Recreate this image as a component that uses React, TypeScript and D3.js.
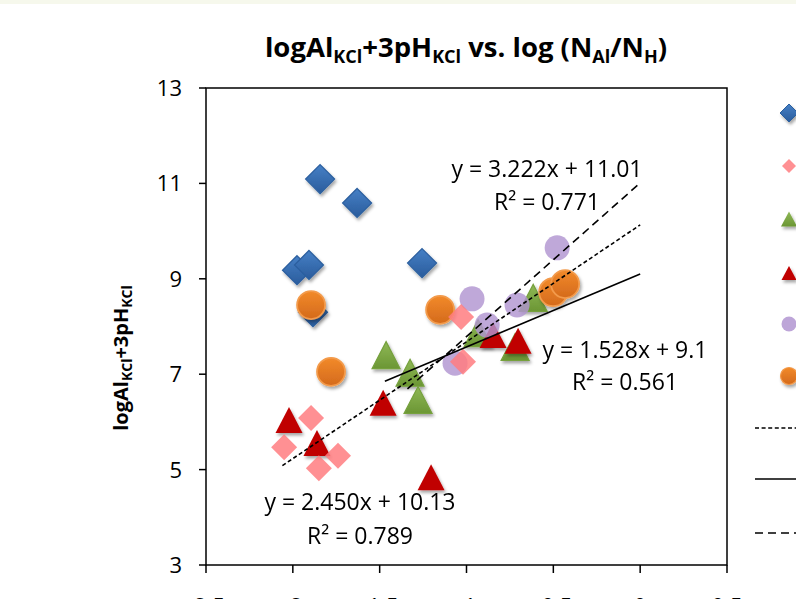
import React from 'react';
import * as d3 from 'd3';

// ---- data ----
const blueX = [-1.843, -1.63, -1.976, -1.907, -1.884, -1.256];
const blueY = [11.09, 10.59, 9.18, 9.29, 8.3, 9.33];

const pinkX = [-1.895, -2.05, -1.74, -1.85, -1.031, -1.02];
const pinkY = [6.08, 5.47, 5.29, 5.03, 8.2, 7.26];

const greenX = [-1.463, -1.325, -1.279, -0.616, -0.933, -0.72];
const greenY = [7.4, 7.03, 6.46, 8.6, 7.86, 7.57];

const redX = [-2.022, -1.861, -1.48, -1.204, -0.847, -0.703];
const redY = [6.04, 5.56, 6.4, 4.84, 7.82, 7.7];

const purpleX = [-0.478, -0.968, -0.709, -0.881, -1.066];
const purpleY = [9.65, 8.58, 8.45, 8.03, 7.23];

const orangeX = [-1.895, -1.78, -1.152, -0.501, -0.432];
const orangeY = [8.45, 7.05, 8.35, 8.72, 8.89];

const yTicks = [3, 5, 7, 9, 11, 13];
const xTicks = [-2.5, -2, -1.5, -1, -0.5, 0, 0.5];

// trendlines: slope, intercept, x-range
const trendDotted = { m: 2.45, b: 10.13, x0: -2.06, x1: 0 };
const trendSolid = { m: 1.528, b: 9.1, x0: -1.47, x1: 0 };
const trendDashed = { m: 3.222, b: 11.01, x0: -1.34, x1: 0 };

const eqDashed = ['y = 3.222x + 11.01', 'R² = 0.771'];
const eqSolid = ['y = 1.528x + 9.1', 'R² = 0.561'];
const eqDotted = ['y = 2.450x + 10.13', 'R² = 0.789'];

const FONT = "'Open Sans', 'DejaVu Sans', sans-serif";

const diamond = (r: number) => `M0,${-r}L${r},0L0,${r}L${-r},0Z`;
const triangle = (w: number, h: number) => `M0,${-h / 2}L${w / 2},${h / 2}L${-w / 2},${h / 2}Z`;

export default function App() {
  const W = 796;
  const H = 599;
  const x = d3.scaleLinear().domain([-2.5, 0.5]).range([206, 727]);
  const y = d3.scaleLinear().domain([3, 13]).range([565, 88]);

  const zip = (xs: number[], ys: number[]) => xs.map((v, i) => [v, ys[i]] as [number, number]);

  const line = (t: { m: number; b: number; x0: number; x1: number }) =>
    d3.line<number>()
      .x((d) => x(d))
      .y((d) => y(t.m * d + t.b))([t.x0, t.x1]) as string;

  const axisColor = '#000';
  const EQ = 23;

  return (
    <svg width={W} height={H} style={{ position: 'absolute', left: 0, top: 0, background: '#fff' }} fontFamily={FONT}>
      <defs>
        <filter id="sh" x="-60%" y="-60%" width="220%" height="220%">
          <feDropShadow dx="1.5" dy="2.5" stdDeviation="1.6" floodColor="#000" floodOpacity="0.35" />
        </filter>
        <linearGradient id="gBlue" x1="0" y1="0" x2="0" y2="1">
          <stop offset="0" stopColor="#4680c6" />
          <stop offset="1" stopColor="#2a5c9c" />
        </linearGradient>
        <linearGradient id="gGreen" x1="0" y1="0" x2="0" y2="1">
          <stop offset="0" stopColor="#8fb856" />
          <stop offset="1" stopColor="#6b9634" />
        </linearGradient>
        <linearGradient id="gOrange" x1="0" y1="0" x2="0" y2="1">
          <stop offset="0" stopColor="#f28a2a" />
          <stop offset="1" stopColor="#d46a1c" />
        </linearGradient>
      </defs>
      <rect x={0} y={0} width={W} height={H} fill="#fff" />
      <rect x={0} y={0} width={W} height={4} fill="#f6f8ec" />

      {/* title */}
      <text x={466} y={57} textAnchor="middle" fontWeight="bold" fontSize={27.5} fill="#000">
        logAl<tspan fontSize={18} dy={6}>KCl</tspan>
        <tspan dy={-6}>+3pH</tspan><tspan fontSize={18} dy={6}>KCl</tspan>
        <tspan dy={-6}> vs. log (N</tspan><tspan fontSize={18} dy={6}>Al</tspan>
        <tspan dy={-6}>/N</tspan><tspan fontSize={18} dy={6}>H</tspan>
        <tspan dy={-6}>)</tspan>
      </text>

      {/* y axis title */}
      <text transform={`translate(128,358) rotate(-90)`} textAnchor="middle" fontWeight="bold" fontSize={20} fill="#000">
        logAl<tspan fontSize={14} dy={4}>KCl</tspan>
        <tspan dy={-4}>+3pH</tspan><tspan fontSize={14} dy={4}>KCl</tspan>
      </text>

      {/* plot frame */}
      <rect x={x(-2.5)} y={y(13)} width={x(0.5) - x(-2.5)} height={y(3) - y(13)} fill="none" stroke={axisColor} strokeWidth={1.5} />

      {/* y ticks */}
      {yTicks.map((t) => (
        <g key={'y' + t}>
          <line x1={x(-2.5) - 7} x2={x(-2.5)} y1={y(t)} y2={y(t)} stroke={axisColor} strokeWidth={1.5} />
          <text x={x(-2.5) - 24} y={y(t) + 8} textAnchor="end" fontSize={22} fill="#000">{t}</text>
        </g>
      ))}
      {/* x ticks (labels sit at the bottom edge, as in the reference) */}
      {xTicks.map((t) => (
        <g key={'x' + t}>
          <line x1={x(t)} x2={x(t)} y1={y(3)} y2={y(3) + 8} stroke={axisColor} strokeWidth={1.5} />
          <text x={x(t)} y={y(3) + 48.5} textAnchor="middle" fontSize={22} fill="#000">{t}</text>
        </g>
      ))}

      {/* series */}
      <g filter="url(#sh)">
        {zip(blueX, blueY).map(([a, b], i) => (
          <path key={'b' + i} d={diamond(14.5)} transform={`translate(${x(a)},${y(b)})`} fill="url(#gBlue)" stroke="#2b5f9f" strokeWidth={1.2} />
        ))}
      </g>
      <g filter="url(#sh)">
        {zip(greenX, greenY).map(([a, b], i) => (
          <path key={'g' + i} d={triangle(28, 27)} transform={`translate(${x(a)},${y(b)})`} fill="url(#gGreen)" stroke="#76a13e" strokeWidth={1.2} />
        ))}
      </g>
      <g filter="url(#sh)">
        {zip(redX, redY).map(([a, b], i) => (
          <path key={'r' + i} d={triangle(27, 26)} transform={`translate(${x(a)},${y(b)})`} fill="#c00000" />
        ))}
      </g>
      <g>
        {zip(purpleX, purpleY).map(([a, b], i) => (
          <circle key={'p' + i} cx={x(a)} cy={y(b)} r={12.5} fill="#b195d1" fillOpacity={0.82} />
        ))}
      </g>
      <g filter="url(#sh)">
        {zip(orangeX, orangeY).map(([a, b], i) => (
          <circle key={'o' + i} cx={x(a)} cy={y(b)} r={14} fill="url(#gOrange)" stroke="#f39b4c" strokeWidth={1.8} />
        ))}
      </g>
      <g>
        {zip(pinkX, pinkY).map(([a, b], i) => (
          <path key={'k' + i} d={diamond(13)} transform={`translate(${x(a)},${y(b)})`} fill="#ff7c80" fillOpacity={0.85} />
        ))}
      </g>

      {/* trendlines */}
      <path d={line(trendDotted)} fill="none" stroke="#000" strokeWidth={1.6} strokeDasharray="4,2.6" />
      <path d={line(trendSolid)} fill="none" stroke="#000" strokeWidth={1.6} />
      <path d={line(trendDashed)} fill="none" stroke="#000" strokeWidth={1.6} strokeDasharray="8,5" />

      {/* equations (each label's two lines centred, as Excel does) */}
      <text x={547} y={177} textAnchor="middle" fontSize={EQ} fill="#000">{eqDashed[0]}</text>
      <text x={547} y={210} textAnchor="middle" fontSize={EQ} fill="#000">{eqDashed[1]}</text>
      <text x={625} y={358} textAnchor="middle" fontSize={EQ} fill="#000">{eqSolid[0]}</text>
      <text x={625} y={390} textAnchor="middle" fontSize={EQ} fill="#000">{eqSolid[1]}</text>
      <text x={360} y={510} textAnchor="middle" fontSize={EQ} fill="#000">{eqDotted[0]}</text>
      <text x={360} y={544} textAnchor="middle" fontSize={EQ} fill="#000">{eqDotted[1]}</text>

      {/* legend (cut by the right edge) */}
      <g filter="url(#sh)">
        <path d={diamond(9)} transform="translate(789,113)" fill="url(#gBlue)" stroke="#2b5f9f" strokeWidth={1} />
        <path d={triangle(16, 15)} transform="translate(789,219)" fill="url(#gGreen)" />
        <path d={triangle(15, 14)} transform="translate(789,273)" fill="#c00000" />
        <circle cx={789} cy={376} r={8.5} fill="url(#gOrange)" stroke="#f39b4c" strokeWidth={1.2} />
      </g>
      <path d={diamond(7)} transform="translate(789,166)" fill="#ff7c80" fillOpacity={0.85} />
      <circle cx={789} cy={324} r={7.5} fill="#b195d1" fillOpacity={0.85} />
      <line x1={755} x2={800} y1={428} y2={428} stroke="#000" strokeWidth={1.6} strokeDasharray="4,2.6" />
      <line x1={755} x2={800} y1={479} y2={479} stroke="#000" strokeWidth={1.6} />
      <line x1={755} x2={800} y1={533} y2={533} stroke="#000" strokeWidth={1.6} strokeDasharray="8,5" />
    </svg>
  );
}
